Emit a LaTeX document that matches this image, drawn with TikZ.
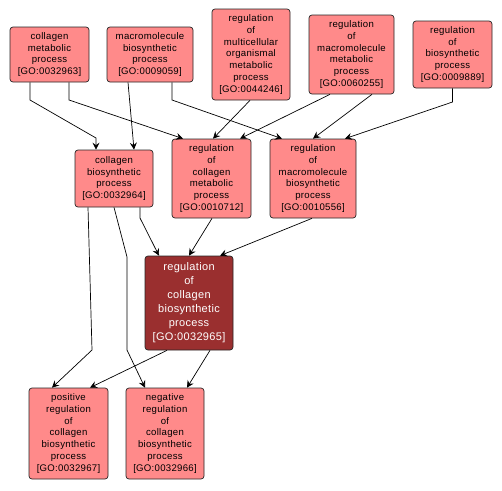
\documentclass[tikz,border=0pt]{standalone}
\usepackage{fontspec}
\usepackage{xcolor}
\usetikzlibrary{arrows.meta}
\newfontfamily\gofont[LetterSpace=3]{Liberation Sans}
\definecolor{termfill}{HTML}{FF8A8A}
\definecolor{focusfill}{HTML}{9A2F2F}

\tikzset{
  goterm/.style={draw=black!85, fill=termfill, rounded corners=3pt, line width=0.7pt,
    align=center, inner sep=0pt, font=\gofont\fontsize{9.6}{11.7}\selectfont},
  focusterm/.style={goterm, fill=focusfill, text=white,
    font=\gofont\fontsize{11}{14}\selectfont},
  isa/.style={->, line width=0.7pt}
}

\begin{document}
\begin{tikzpicture}[>={Stealth[length=7pt,width=7pt,inset=2.5pt]}, x=1pt, y=-1pt]
  \useasboundingbox (0,0) rectangle (502,490);
  % top row
  \node[goterm, minimum width=79pt, minimum height=55pt] (cmp) at (49.5,54.5)
    {collagen\\metabolic\\process\\{[GO:0032963]}};
  \node[goterm, minimum width=86pt, minimum height=55pt] (mbp) at (150,54.5)
    {macromolecule\\biosynthetic\\process\\{[GO:0009059]}};
  \node[goterm, minimum width=78pt, minimum height=91pt] (rmo) at (251,54.5)
    {regulation\\of\\multicellular\\organismal\\metabolic\\process\\{[GO:0044246]}};
  \node[goterm, minimum width=85pt, minimum height=79pt] (rmm) at (351.5,54.5)
    {regulation\\of\\macromolecule\\metabolic\\process\\{[GO:0060255]}};
  \node[goterm, minimum width=79pt, minimum height=67pt] (rbp) at (452.5,54.5)
    {regulation\\of\\biosynthetic\\process\\{[GO:0009889]}};
  % middle row
  \node[goterm, minimum width=78pt, minimum height=57pt] (cbp) at (114,178.5)
    {collagen\\biosynthetic\\process\\{[GO:0032964]}};
  \node[goterm, minimum width=79pt, minimum height=79pt] (rcm) at (211.5,178.5)
    {regulation\\of\\collagen\\metabolic\\process\\{[GO:0010712]}};
  \node[goterm, minimum width=86pt, minimum height=79pt] (rmb) at (313,178.5)
    {regulation\\of\\macromolecule\\biosynthetic\\process\\{[GO:0010556]}};
  % focus term
  \node[focusterm, minimum width=88pt, minimum height=94pt] (rcb) at (189,303)
    {regulation\\of\\collagen\\biosynthetic\\process\\{[GO:0032965]}};
  % bottom row
  \node[goterm, minimum width=79pt, minimum height=91pt] (pos) at (68.5,433.5)
    {positive\\regulation\\of\\collagen\\biosynthetic\\process\\{[GO:0032967]}};
  \node[goterm, minimum width=78pt, minimum height=91pt] (neg) at (165,433.5)
    {negative\\regulation\\of\\collagen\\biosynthetic\\process\\{[GO:0032966]}};

  % edges
  \draw[isa] ([xshift=-19.5pt]cmp.south) -- (30,100) -- (96,138) -- ([xshift=-18pt]cbp.north);
  \draw[isa] ([xshift=19.5pt]cmp.south) -- (69,100) -- ([xshift=-28.5pt]rcm.north);
  \draw[isa] ([xshift=-22pt]mbp.south) -- ([xshift=20pt]cbp.north);
  \draw[isa] ([xshift=22pt]mbp.south) -- (172,100) -- ([xshift=-31pt]rmb.north);
  \draw[isa] ([xshift=-1pt]rmo.south) -- ([xshift=1.5pt]rcm.north);
  \draw[isa] ([xshift=-21.5pt]rmm.south) -- ([xshift=28.5pt]rcm.north);
  \draw[isa] ([xshift=20.5pt]rmm.south) -- (rmb.north);
  \draw[isa] (rbp.south) -- (452.5,102) -- ([xshift=32pt]rmb.north);
  \draw[isa] ([xshift=26pt]cbp.south) -- (140,218) -- ([xshift=-30pt]rcb.north);
  \draw[isa] ([xshift=0.5pt]rcm.south) -- (rcb.north);
  \draw[isa] ([xshift=-1pt]rmb.south) -- ([xshift=31pt]rcb.north);
  \draw[isa] ([xshift=-26pt]cbp.south) -- (92,350) -- ([xshift=-16.5pt]pos.north);
  \draw[isa] (cbp.south) -- (127,257) -- (127,350) -- ([xshift=-20pt]neg.north);
  \draw[isa] ([xshift=-22pt]rcb.south) -- ([xshift=21.5pt]pos.north);
  \draw[isa] ([xshift=21pt]rcb.south) -- ([xshift=22pt]neg.north);
\end{tikzpicture}
\end{document}
